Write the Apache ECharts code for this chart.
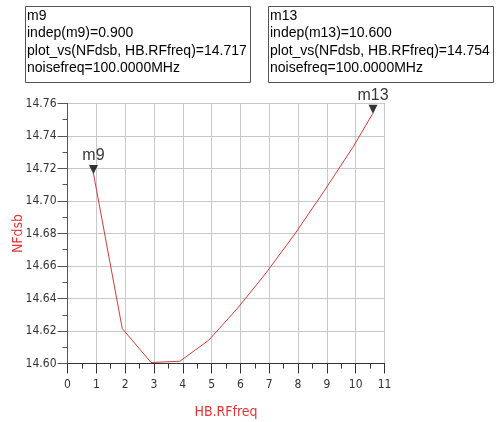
<!DOCTYPE html>
<html>
<head>
<meta charset="utf-8">
<script src="https://cdn.jsdelivr.net/npm/echarts@6/dist/echarts.min.js"></script>
<style>
  html, body { margin: 0; padding: 0; background: #fff; }
  #main { width: 499px; height: 422px; }
</style>
</head>
<body>
<div id="main"></div>
<script>
// swept data
var freqX = [0.9, 1.9, 2.9, 3.9, 4.9, 5.9, 6.9, 7.9, 8.9, 9.9, 10.6];
var nfY = [14.717, 14.6215, 14.6006, 14.6014, 14.6143, 14.634, 14.656, 14.680, 14.706, 14.733, 14.754];
// markers
var markerNames = ['m9', 'm13'];
var markerX = [0.9, 10.6];
var markerY = [14.717, 14.754];
var yTicks = { min: 14.60, max: 14.76, step: 0.02 };
var xTicks = { min: 0, max: 11, step: 1 };

var boxLines = [
  ['m9', 'indep(m9)=0.900', 'plot_vs(NFdsb, HB.RFfreq)=14.717', 'noisefreq=100.0000MHz'],
  ['m13', 'indep(m13)=10.600', 'plot_vs(NFdsb, HB.RFfreq)=14.754', 'noisefreq=100.0000MHz']
];

var lineData = [];
for (var i = 0; i < freqX.length; i++) lineData.push([freqX[i], nfY[i]]);
var markData = [];
for (var j = 0; j < markerX.length; j++) markData.push({ name: markerNames[j], value: [markerX[j], markerY[j]] });

var tickFont = "'DejaVu Sans Condensed', 'Liberation Sans Narrow', 'Arial Narrow', sans-serif";

function box(x, lines) {
  return {
    type: 'group',
    children: [
      { type: 'rect', shape: { x: x + 0.5, y: 6.5, width: 225, height: 76 },
        style: { fill: '#fff', stroke: '#555', lineWidth: 1 } },
      { type: 'text', x: x + 2, y: 7,
        style: { text: lines.join('\n'), fill: '#000', font: '14px "Liberation Sans", Arial, sans-serif', lineHeight: 17.5 } }
    ]
  };
}

var chart = echarts.init(document.getElementById('main'));
chart.setOption({
  animation: false,
  backgroundColor: '#fff',
  graphic: [box(25, boxLines[0]), box(268, boxLines[1])],
  grid: { left: 67.5, right: 114.5, top: 103.5, bottom: 58.5, outerBoundsMode: 'none', containLabel: false,
    show: true, borderColor: '#666', borderWidth: 1, backgroundColor: 'transparent' },
  xAxis: {
    type: 'value', min: xTicks.min, max: xTicks.max, interval: xTicks.step,
    name: 'HB.RFfreq', nameLocation: 'middle', nameGap: 42, nameMoveOverlap: false,
    nameTextStyle: { color: '#e03535', fontSize: 14, fontFamily: tickFont },
    axisLine: { show: true, lineStyle: { color: '#333', width: 1 } },
    axisTick: { show: true, length: 10, lineStyle: { color: '#333' } },
    minorTick: { show: true, splitNumber: 2, length: 5, lineStyle: { color: '#333' } },
    axisLabel: { color: '#333', fontSize: 12, fontFamily: tickFont, margin: 15 },
    splitLine: { show: true, lineStyle: { color: '#c8c8c8', width: 1 } }
  },
  yAxis: {
    type: 'value', min: yTicks.min, max: yTicks.max, interval: yTicks.step,
    name: 'NFdsb', nameLocation: 'middle', nameGap: 42, nameRotate: 90, nameMoveOverlap: false,
    nameTextStyle: { color: '#e03535', fontSize: 14, fontFamily: tickFont },
    axisLine: { show: true, lineStyle: { color: '#555', width: 1 } },
    axisTick: { show: true, length: 10, lineStyle: { color: '#555' } },
    minorTick: { show: true, splitNumber: 2, length: 5, lineStyle: { color: '#555' } },
    axisLabel: { color: '#333', fontSize: 12, fontFamily: tickFont, margin: 11,
      formatter: function (v) { return v.toFixed(2); } },
    splitLine: { show: true, lineStyle: { color: '#c8c8c8', width: 1 } }
  },
  series: [
    {
      type: 'line', data: lineData, showSymbol: false, symbol: 'none',
      lineStyle: { color: '#d03c3c', width: 1 }, silent: true
    },
    {
      type: 'scatter', data: markData, symbol: 'triangle', symbolRotate: 180,
      symbolSize: [9, 9], symbolOffset: [0, -4],
      itemStyle: { color: '#000' },
      label: { show: true, position: 'top', distance: 1, formatter: '{b}',
        color: '#000', fontSize: 16, fontFamily: '"Liberation Sans", Arial, sans-serif' },
      silent: true, z: 5
    }
  ]
});
</script>
</body>
</html>
